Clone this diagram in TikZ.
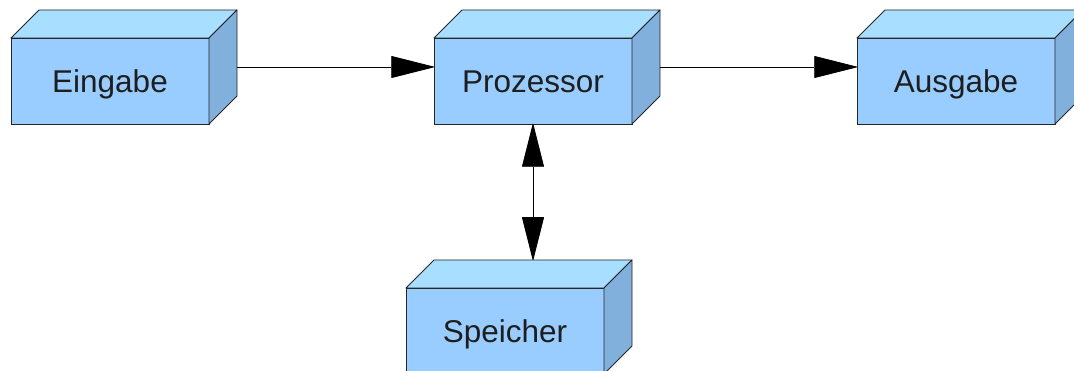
\documentclass[tikz,border=0pt]{standalone}
\usepackage{fontspec}
\setmainfont{Liberation Sans}
\usetikzlibrary{positioning,calc,arrows.meta}
\definecolor{boxfront}{RGB}{153,204,255}
\definecolor{boxtop}{RGB}{168,222,255}
\definecolor{boxside}{RGB}{130,176,220}
\definecolor{boxtext}{RGB}{30,30,30}
\begin{document}
\begin{tikzpicture}[x=1pt,y=1pt,
  block/.style={draw=black!85, line width=0.9pt, fill=boxfront,
    minimum width=198pt, minimum height=86pt, inner sep=0pt, outer sep=0pt,
    text height=22.5pt, text depth=0pt,
    font=\fontsize{31.5}{36}\selectfont, text=boxtext},
  face/.style={draw=black!85, line width=0.9pt, line join=round},
  tip/.tip={Triangle[length=44pt,width=22pt,round]},
  link/.style={line width=0.8pt, -tip}]
  \clip (0,0) rectangle (1074,371);
  \useasboundingbox (0,0) rectangle (1074,371);
  % front faces
  \node[block] (ein) at (110,290) {Eingabe};
  \node[block, right=225pt of ein] (proz) {Prozessor};
  \node[block, right=225pt of proz] (aus) {Ausgabe};
  \node[block, below=164pt of proz, xshift=-28pt] (spei) {Speicher};
  % top and side faces
  \foreach \n in {ein,proz,aus,spei}{
    \draw[face, fill=boxtop] (\n.north west) -- ++(28,28)
      -- ($(\n.north east)+(28,28)$) -- (\n.north east) -- cycle;
    \draw[face, fill=boxside] (\n.north east) -- ++(28,28)
      -- ($(\n.south east)+(28,28)$) -- (\n.south east) -- cycle;
    \coordinate (\n-side) at ($(\n.east)+(28,14)$);
    \coordinate (\n-back) at ($(\n.north)+(28,28)$);
  }
  % connectors
  \draw[link] (ein-side) -- (ein-side -| proz.west);
  \draw[link] (proz-side) -- (proz-side -| aus.west);
  \draw[link, tip-tip] (proz.south) -- (spei-back);
\end{tikzpicture}
\end{document}
